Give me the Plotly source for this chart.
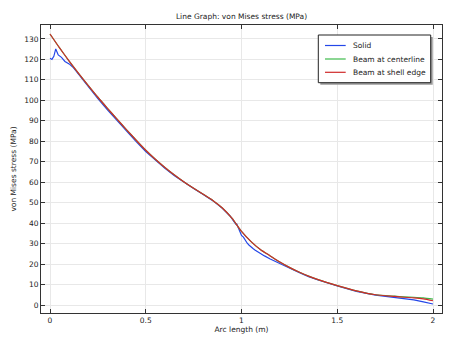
import plotly.graph_objects as go

# Beam curves (arc length m, stress MPa)
beam_x = [0, 0.05, 0.1, 0.15, 0.2, 0.25, 0.3, 0.35, 0.4, 0.45, 0.5, 0.55, 0.6, 0.65, 0.7,
          0.75, 0.8, 0.85, 0.9, 0.95, 1.0, 1.05, 1.1, 1.15, 1.2, 1.25, 1.3, 1.35, 1.4, 1.5,
          1.6, 1.7, 1.8, 1.85, 1.9, 1.95, 2.0]
edge_y = [132.4, 125.6, 119.2, 113.1, 107.2, 101.5, 96.1, 90.8, 85.6, 80.5, 75.6, 71.2, 67.2,
          63.5, 60.1, 57.0, 54.1, 51.1, 47.4, 42.4, 36.0, 31.0, 27.0, 24.0, 21.0, 18.4, 16.1,
          14.1, 12.4, 9.5, 6.9, 5.0, 4.2, 3.8, 3.5, 3.0, 2.1]
center_y = [132.4, 125.6, 119.2, 113.1, 107.2, 101.5, 96.1, 90.8, 85.6, 80.5, 75.6, 71.2, 67.2,
            63.5, 60.1, 57.0, 54.1, 51.1, 47.4, 42.4, 36.0, 31.0, 27.0, 24.0, 21.0, 18.4, 16.1,
            14.1, 12.4, 9.5, 6.9, 5.0, 4.3, 4.0, 3.8, 3.5, 2.9]

solid_x = [0, 0.01, 0.02, 0.03, 0.043, 0.06, 0.078, 0.1, 0.12, 0.15, 0.2, 0.25, 0.3, 0.35, 0.4,
           0.45, 0.5, 0.55, 0.6, 0.65, 0.7, 0.75, 0.8, 0.85, 0.9, 0.94, 0.96, 0.97, 0.975, 0.985,
           0.99, 1.0, 1.01, 1.02, 1.03, 1.04, 1.05, 1.06, 1.07, 1.08, 1.1, 1.12, 1.15, 1.2,
           1.25, 1.3, 1.35, 1.4, 1.5, 1.6, 1.7, 1.8, 1.85, 1.9, 1.95, 2.0]
solid_y = [120.6, 120.0, 121.5, 125.1, 122.2, 121.0, 119.0, 117.8, 116.2, 112.6, 106.6, 100.8,
           95.4, 90.1, 84.9, 79.8, 75.0, 70.7, 66.8, 63.2, 59.9, 56.9, 54.0, 51.0, 47.2, 43.5,
           40.8, 39.5, 39.6, 37.2, 36.8, 34.0, 33.2, 31.5, 30.2, 29.2, 28.6, 27.6, 26.9, 26.3,
           25.0, 24.0, 22.5, 20.2, 18.0, 15.9, 13.9, 12.2, 9.3, 6.7, 4.8, 3.8, 3.2, 2.5, 1.5, 0.5]

series_names = ["Solid", "Beam at centerline", "Beam at shell edge"]
series_colors = ["#2447e8", "#3dba4a", "#d02a2a"]

x_ticks = [0, 0.5, 1, 1.5, 2]
x_labels = ["0", "0.5", "1", "1.5", "2"]
y_ticks = list(range(0, 131, 10))

FONT = "DejaVu Sans"
W, H = 460, 346
L, R, T, B = 41, 18, 25, 33
PW, PH = W - L - R, H - T - B


def px(xpix):
    return (xpix - L) / PW


def py(ypix):
    return (H - B - ypix) / PH


fig = go.Figure()
fig.add_trace(go.Scatter(x=solid_x, y=solid_y, mode="lines", name=series_names[0],
                         line=dict(color=series_colors[0], width=1.2)))
fig.add_trace(go.Scatter(x=beam_x, y=center_y, mode="lines", name=series_names[1],
                         line=dict(color=series_colors[1], width=1.2, shape="spline", smoothing=0.6)))
fig.add_trace(go.Scatter(x=beam_x, y=edge_y, mode="lines", name=series_names[2],
                         line=dict(color=series_colors[2], width=1.2, shape="spline", smoothing=0.6)))

axis_common = dict(showline=True, linecolor="#333333", linewidth=1, mirror="ticks",
                   ticks="inside", ticklen=4, tickcolor="#333333", showgrid=True,
                   gridcolor="#e8e8e8", gridwidth=1, zeroline=False,
                   tickfont=dict(family=FONT, size=7.5, color="#222222"))

fig.update_xaxes(range=[-0.047, 2.047], tickvals=x_ticks, ticktext=x_labels,
                 title=dict(text="Arc length (m)", font=dict(family=FONT, size=7.5, color="#222"),
                            standoff=2), **axis_common)
fig.update_yaxes(range=[-3.9, 136.8], tickvals=y_ticks,
                 title=dict(text="von Mises stress (MPa)", font=dict(family=FONT, size=7.5, color="#222"),
                            standoff=6), **axis_common)

# Custom legend (box with shadow, line samples and labels)
box = (318.3, 35, 430.7, 82.7)
shapes = [
    dict(type="rect", xref="paper", yref="paper", layer="above",
         x0=px(box[0] + 2), x1=px(box[2] + 2), y0=py(box[3] + 2), y1=py(box[1] + 2),
         fillcolor="#9a9a9a", line=dict(width=0)),
    dict(type="rect", xref="paper", yref="paper", layer="above",
         x0=px(box[0]), x1=px(box[2]), y0=py(box[3]), y1=py(box[1]),
         fillcolor="white", line=dict(color="#222222", width=1)),
]
annotations = []
entry_y = [45.5, 59, 72.3]
for name, color, ey in zip(series_names, series_colors, entry_y):
    shapes.append(dict(type="line", xref="paper", yref="paper", layer="above",
                       x0=px(325), x1=px(345.7), y0=py(ey), y1=py(ey),
                       line=dict(color=color, width=1.2)))
    annotations.append(dict(text=name, xref="paper", yref="paper", x=px(350.5), y=py(ey),
                            xanchor="left", yanchor="middle", showarrow=False,
                            font=dict(family=FONT, size=7.5, color="#222")))

fig.update_layout(
    width=W, height=H,
    margin=dict(l=L, r=R, t=T, b=B),
    paper_bgcolor="white", plot_bgcolor="white",
    title=dict(text="Line Graph: von Mises stress (MPa)", x=0.5, xanchor="center",
               xref="paper", y=1 - 16 / H, yanchor="middle",
               font=dict(family=FONT, size=7.5, color="#222")),
    showlegend=False,
    shapes=shapes,
    annotations=annotations,
)

fig.write_html("out.html")
